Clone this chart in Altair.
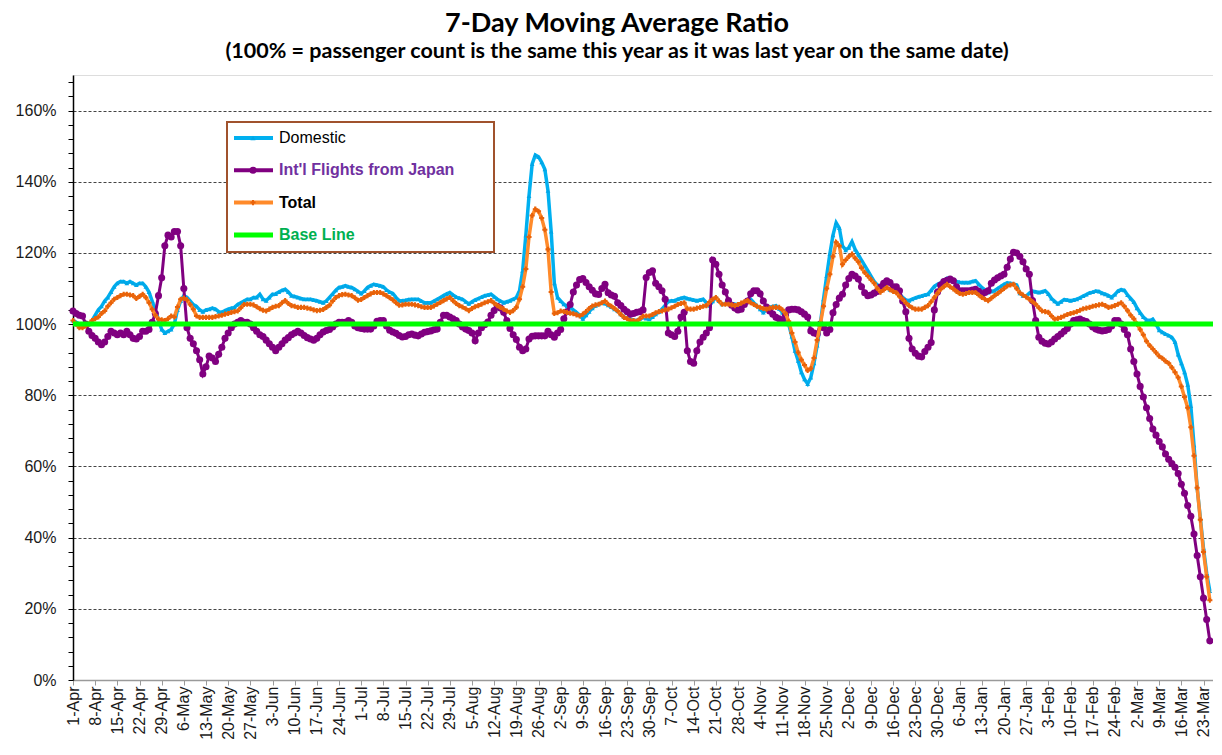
import json
import altair as alt
import pandas as pd

TICK_LABELS = [
    "1-Apr", "8-Apr", "15-Apr", "22-Apr", "29-Apr", "6-May", "13-May", "20-May", "27-May",
    "3-Jun", "10-Jun", "17-Jun", "24-Jun", "1-Jul", "8-Jul", "15-Jul", "22-Jul", "29-Jul",
    "5-Aug", "12-Aug", "19-Aug", "26-Aug", "2-Sep", "9-Sep", "16-Sep", "23-Sep", "30-Sep",
    "7-Oct", "14-Oct", "21-Oct", "28-Oct", "4-Nov", "11-Nov", "18-Nov", "25-Nov",
    "2-Dec", "9-Dec", "16-Dec", "23-Dec", "30-Dec", "6-Jan", "13-Jan", "20-Jan", "27-Jan",
    "3-Feb", "10-Feb", "17-Feb", "24-Feb", "2-Mar", "9-Mar", "16-Mar", "23-Mar",
]

DOMESTIC = [
    101, 100.5, 100, 100, 100, 100, 101, 102.5, 104, 105,
    106.5, 107.5, 109, 110.5, 111.5, 112, 112, 111.5, 112, 111.5,
    111, 111.5, 111.5, 110.5, 109, 106.5, 104, 101, 98.5, 97.5,
    98, 98.5, 100, 104, 106.5, 108, 107.5, 106.5, 105.5, 105,
    104, 103.5, 104, 104.2, 104.5, 104.2, 103.5, 103.3, 103.8, 104.2,
    104.5, 104.7, 105.5, 106, 106.5, 107, 107, 107.5, 107.5, 108.4,
    107, 106.6, 107.5, 108.4, 108.5, 109, 109.5, 109.8, 109, 108,
    107.8, 107.5, 107.2, 107, 107, 107, 106.8, 106.6, 106.3, 106,
    106.5, 107.5, 108.5, 109.5, 110.3, 110.5, 110.8, 110.5, 110.3, 109.8,
    109.2, 108.6, 109.3, 110.3, 110.8, 111.2, 111, 110.8, 110.5, 109.6,
    109, 108.6, 107.5, 106.6, 106.6, 106.7, 106.9, 107, 107, 107,
    106.5, 106, 106, 106, 106.5, 107, 107.5, 108, 108.5, 108.9,
    108.2, 107.6, 107.3, 107, 106.3, 105.7, 106.3, 106.8, 107.2, 107.6,
    108, 108.2, 108.4, 107.7, 107, 106.5, 106, 106.3, 106.6, 107,
    107.5, 109.4, 115, 125, 136, 145, 147.5, 147, 145.5, 143.5,
    137.5, 126, 111.5, 107.5, 106.5, 105.6, 105, 104.7, 104, 103.3,
    102.5, 101.5, 102.5, 103.5, 104.5, 105.2, 105.6, 106, 105.8, 105.3,
    104.8, 104.2, 103.7, 102.8, 102, 101.7, 101.4, 101.2, 101, 101.5,
    101.9, 101.6, 101.4, 102, 102.8, 103.4, 104.2, 105.3, 106.4, 106.6,
    106.6, 107, 107.3, 107.5, 107.2, 107, 106.8, 106.6, 106.8, 107,
    106, 105.2, 106.4, 107.5, 106.5, 105.6, 105.8, 106, 105.8, 105.6,
    105.6, 105.6, 106.2, 106.8, 107, 106, 105.2, 104.2, 103.3, 104,
    104.7, 105, 105.2, 104.3, 103.3, 101.5, 100, 96.5, 92.5, 89.7,
    86.5, 84.5, 83.2, 85, 89, 94, 100, 107, 113.5, 119.7,
    125, 128.5, 127, 122, 120.8, 121.5, 123.2, 121, 119.5, 118,
    116.5, 115, 113.5, 112, 111, 110.6, 110.4, 110.2, 109.7, 109.4,
    109, 108.5, 107.5, 106.8, 106.6, 107, 107.4, 107.7, 107.9, 108.2,
    108.4, 109.5, 110.6, 111.2, 111.6, 112.2, 112.9, 112.8, 112.4, 112,
    111.8, 111.7, 111.7, 111.7, 112, 112.2, 111.2, 110.3, 109.6, 108.9,
    109.2, 109.4, 110, 110.6, 111.2, 111.6, 111.5, 111.3, 111, 108.7,
    108, 107.9, 108.7, 109.3, 109.1, 108.9, 109.1, 109.4, 108.5, 107.2,
    106.4, 105.7, 106.3, 106.9, 106.8, 106.6, 106.8, 107, 107.4, 107.9,
    108.3, 108.8, 109, 109.3, 109.2, 108.7, 108.4, 108, 107.5, 108.3,
    109.3, 109.7, 109.5, 108.2, 107.2, 106.2, 104.5, 103.2, 102, 101.2,
    101, 101.4, 100, 98.3, 97.7, 97.2, 96.8, 96.3, 95, 91.5,
    89, 86.5, 83, 77, 66, 54, 45.5, 37, 30, 25,
]

INTL = [
    103.7, 103, 102.5, 102.3, 100, 98, 96.8, 96, 95, 94.2,
    95, 96.5, 98, 97.5, 97, 97.5, 97, 98, 97, 96,
    95.8, 96.5, 98, 98, 98.5, 100.5, 103, 108, 113, 122,
    125, 124.5, 126, 126, 122, 110, 99, 96, 94.5, 92.5,
    90, 86, 88, 91, 90.5, 89.5, 91.5, 93.5, 96, 97.5,
    99, 100, 100.5, 101, 100.5, 100.5, 100, 99, 98, 97,
    96.5, 95.5, 94.5, 93.5, 92.5, 93.5, 94.5, 95.5, 96.2, 97,
    97.5, 98, 97.5, 96.8, 96.2, 95.8, 95.5, 96, 97, 97.8,
    98.2, 98.5, 99.2, 100, 100.5, 100.5, 100.5, 101, 100.5, 99.5,
    99, 98.8, 98.6, 98.6, 98.6, 99.5, 100.8, 101, 101, 99.5,
    98.3, 97.8, 97.4, 96.8, 96.4, 96.5, 97, 97.2, 96.9, 96.7,
    97.2, 97.7, 97.9, 98.1, 98.4, 98.6, 100.5, 102.5, 102.5, 102,
    101.5, 101, 100, 99.2, 98.6, 98.2, 97.5, 95.3, 97.5, 99,
    99.8, 100.6, 102.5, 103.8, 105, 104.5, 103.3, 101, 98.8, 97,
    95.7, 93.5, 92.5, 93, 95.8, 96.6, 96.7, 96.7, 96.7, 96.7,
    98, 97, 96.3, 97.5, 98.5, 101.5, 103.5, 105.5, 109, 111,
    112.5, 112.8, 111.7, 110.5, 109.5, 108.5, 108.3, 110, 111.2, 108.8,
    108.2, 107.8, 106, 105.2, 104.2, 103.5, 102.8, 103, 103.3, 103.5,
    104, 113.1, 114.5, 115, 111.5, 110.5, 109.4, 107, 97.5, 97,
    96.5, 98, 102, 103.3, 92.5, 89.5, 89, 92.5, 95, 96.3,
    97.5, 99, 118, 116.8, 114, 111, 109, 106.6, 105.3, 104.5,
    104, 104.2, 105.5, 106.5, 108.5, 109.4, 109.4, 108.5, 106.5, 104.8,
    103.7, 102.8, 101.9, 101.5, 101, 102.5, 104, 104.2, 104.2, 104,
    103.5, 102.8, 102, 98.1, 97.5, 97.2, 100, 99, 97.5, 98.5,
    103.2, 105.5, 107.3, 108.4, 111, 112.8, 114, 113.5, 112.7, 110.5,
    108.8, 108, 108.2, 108.7, 109.2, 110.4, 111.5, 112.2, 111.7, 110.5,
    110.5, 109.4, 106.5, 103.5, 96, 93, 91.8, 91, 90.8, 92.3,
    93.5, 94.8, 104, 109, 111, 112, 112.3, 112.7, 112.2, 110.5,
    109.4, 109.4, 109.4, 109.4, 109.6, 109.8, 109.2, 108.4, 108.9, 109.4,
    111.5, 112.4, 113, 113.5, 114, 116, 118.3, 120.2, 120, 119,
    117.5, 115.5, 114, 106.6, 101, 96.3, 95.2, 94.6, 94.4, 95,
    95.8, 96.5, 97.2, 98, 98.8, 100, 101, 101.2, 101.4, 101,
    100.7, 100, 99.2, 98.6, 98.3, 98.1, 98.2, 98.5, 99.5, 101,
    101, 100, 98.5, 97, 93, 89.5, 86, 82.5, 79.5, 76.5,
    73.5, 70.5, 68.8, 67, 65.5, 63.5, 62, 60.8, 59.8, 58,
    55, 52.5, 49, 46, 41, 35, 29, 23, 17, 11,
]

TOTAL = [
    101, 100, 99, 99, 99.5, 100, 101, 101.5, 102, 103,
    103.7, 105, 106, 107, 107.5, 108, 108.4, 108.4, 108.2, 108,
    107.2, 107.8, 108.4, 107.5, 106, 104.2, 102.5, 101.4, 101.2, 101,
    101.5, 102.3, 102, 104.8, 107, 107.3, 106.8, 105.5, 104.2, 102.3,
    101.9, 101.9, 101.9, 101.9, 101.9, 102.1, 102.3, 102.5, 102.8, 103,
    103.3, 103.5, 103.7, 104.6, 105.5, 105.6, 105.6, 105.4, 104.9, 104.3,
    103.9, 103.7, 104.2, 104.7, 105, 105.2, 106, 106.6, 105.8, 105.2,
    105, 104.7, 104.7, 104.7, 104.5, 104.3, 104, 103.8, 103.9, 104.1,
    104.7, 105.3, 106.5, 107.5, 108, 108.3, 108.4, 108.2, 108, 107.4,
    106.7, 106.9, 107.5, 108, 108.5, 108.9, 108.9, 108.9, 108.5, 108,
    107.4, 106.8, 106, 105.3, 105.4, 105.6, 105.6, 105.6, 105.4, 105.2,
    104.9, 104.7, 104.7, 104.7, 105.1, 105.6, 106.1, 106.6, 107.1, 107.5,
    106.6, 105.8, 105.2, 104.8, 104.3, 103.8, 104.4, 104.9, 105.2, 105.6,
    106, 106.3, 106.6, 105.9, 105.2, 104.7, 104.2, 103.7, 103.3, 103.8,
    104.7, 107, 110.5, 115.5, 124.5, 130.5, 132.3, 131.7, 129.8, 126.5,
    121, 109, 103, 103.2, 103.7, 103.5, 103.3, 103.1, 102.9, 102.6,
    102.3, 102.8, 103.5, 104.4, 105.1, 105.4, 105.6, 106, 106.5, 105.6,
    105, 104.4, 103.7, 102.7, 101.9, 101.5, 101, 101, 100.8, 101.5,
    102.2, 102.3, 102.3, 102.7, 103.2, 103.5, 103.7, 104, 104.2, 104.6,
    105, 105.5, 105.8, 106, 104.3, 104.2, 104.2, 104.5, 104.7, 105,
    105.2, 106.2, 107, 107.5, 106.5, 105.6, 105.6, 105.6, 105.4, 105.2,
    105.5, 105.9, 106.3, 106.6, 106, 105.5, 105, 104.7, 104.4, 104.2,
    104.5, 104.7, 104.7, 104.7, 104, 103, 100.8, 97.5, 95, 92,
    90, 88.5, 87, 87.5, 90.5, 95.5, 100, 105, 110, 114,
    119, 123, 122, 116.8, 118, 119, 119.7, 118.5, 117.5, 115.8,
    114.5, 113.5, 112.5, 111.5, 110, 109, 109.6, 110.3, 109.7, 109.2,
    108.8, 107.8, 107, 106, 105.2, 104.6, 104.2, 104.2, 104.2, 104.7,
    105.2, 106.3, 107.5, 108.7, 109.8, 110.5, 111.2, 110.5, 109.9, 109.2,
    108.6, 108.4, 108.6, 108.9, 108.9, 108.9, 108.2, 107.5, 107, 106.6,
    107.3, 108, 108.6, 109.3, 110, 110.7, 111, 111.2, 110, 108.8,
    108.2, 107.6, 107, 106.3, 105.6, 104.6, 103.7, 103.5, 103.3, 102.3,
    101.4, 101.6, 101.9, 102.3, 102.7, 103, 103.2, 103.5, 103.9, 104.3,
    104.5, 104.7, 105, 105.2, 105.4, 105.6, 105.2, 104.7, 104.9, 105.2,
    105.6, 106, 105, 103.8, 102.5, 101.5, 100, 98.5, 97, 95.2,
    94, 93, 92, 91, 90.4, 89.6, 89, 87.8, 86.5, 85,
    82.5, 79.5, 76.5, 71, 63, 54, 45, 36, 29, 22.4,
]

BASELINE = 100

SERIES_NAMES = ["Domestic", "Int'l Flights from Japan", "Total", "Base Line"]
LINE_COLORS = ["#00B0F0", "#800080", "#FF8A2A", "#00FF00"]
MARKER_COLORS = ["#00A6E6", "#800080", "#E8620A", None]
MARKER_SHAPES = ["triangle-up", "circle", "cross", None]
LEGEND_TEXT_COLORS = ["#000000", "#7030A0", "#000000", "#00B050"]
LEGEND_TEXT_WEIGHTS = ["normal", "bold", "bold", "bold"]

W, H = 1140, 605
X_MAX = 360
Y_MAX = 170

label_js = json.dumps(TICK_LABELS)

x_enc = alt.X(
    "day:Q",
    scale=alt.Scale(domain=[0, X_MAX], nice=False, zero=False),
    axis=alt.Axis(
        values=list(range(0, 358, 7)),
        labelExpr=f"{label_js}[round(datum.value / 7)]",
        labelAngle=270,
        labelAlign="right",
        labelBaseline="middle",
        labelFont="Liberation Sans",
        labelFontSize=16,
        labelColor="#1a1a1a",
        labelPadding=1,
        labelOverlap=False,
        labelFlush=False,
        labelBound=False,
        tickSize=5,
        tickColor="#9a9a9a",
        domainColor="#9a9a9a",
        domainWidth=1.5,
        grid=False,
        title=None,
    ),
)

y_enc = alt.Y(
    "value:Q",
    scale=alt.Scale(domain=[0, Y_MAX], nice=False, zero=True),
    axis=alt.Axis(
        values=list(range(0, 170, 4)),
        labelExpr="datum.value % 20 == 0 ? datum.value + '%' : ''",
        labelFont="Liberation Sans",
        labelFontSize=16,
        labelColor="#1a1a1a",
        labelPadding=12,
        labelOverlap=False,
        tickSize=5,
        tickColor="#000000",
        domainColor="#000000",
        domainWidth=1.5,
        grid=True,
        gridColor="#444444",
        gridDash=[3, 2],
        gridWidth=1,
        gridOpacity={"condition": {"test": "datum.value % 20 == 0 && datum.value > 0", "value": 1}, "value": 0},
        title=None,
    ),
)


def series_df(vals):
    return pd.DataFrame({"day": list(range(len(vals))), "value": vals})


layers = []

# Domestic
dom = alt.Chart(series_df(DOMESTIC))
layers.append(dom.mark_line(color=LINE_COLORS[0], strokeWidth=3.5).encode(x=x_enc, y=y_enc))
layers.append(dom.mark_point(shape=MARKER_SHAPES[0], filled=True, size=22, color=MARKER_COLORS[0], opacity=1).encode(x=x_enc, y=y_enc))

# International
intl = alt.Chart(series_df(INTL))
layers.append(intl.mark_line(color=LINE_COLORS[1], strokeWidth=3).encode(x=x_enc, y=y_enc))
layers.append(intl.mark_point(shape=MARKER_SHAPES[1], filled=True, size=50, color=MARKER_COLORS[1], opacity=1).encode(x=x_enc, y=y_enc))

# Total
tot = alt.Chart(series_df(TOTAL))
layers.append(tot.mark_line(color=LINE_COLORS[2], strokeWidth=3.5).encode(x=x_enc, y=y_enc))
layers.append(tot.mark_point(shape=MARKER_SHAPES[2], filled=True, size=26, color=MARKER_COLORS[2], opacity=1).encode(x=x_enc, y=y_enc))

# Base line
base = alt.Chart(pd.DataFrame({"value": [BASELINE]}))
layers.append(base.mark_rule(color=LINE_COLORS[3], strokeWidth=5).encode(y=y_enc))

# Legend (drawn manually inside the plot area)
one = pd.DataFrame({"k": [0]})
LEG_X0, LEG_X1, LEG_Y0, LEG_Y1 = 154, 421, 47, 177
ROW_Y0, ROW_STEP = 63, 32.3
layers.append(
    alt.Chart(one).mark_rect(fill="white", stroke="#A0522D", strokeWidth=2).encode(
        x=alt.value(LEG_X0), x2=alt.value(LEG_X1), y=alt.value(LEG_Y0), y2=alt.value(LEG_Y1)
    )
)
for i, name in enumerate(SERIES_NAMES):
    ry = ROW_Y0 + i * ROW_STEP
    layers.append(
        alt.Chart(one).mark_rule(color=LINE_COLORS[i], strokeWidth=5 if i == 3 else 4).encode(
            x=alt.value(161), x2=alt.value(200), y=alt.value(ry)
        )
    )
    if MARKER_SHAPES[i]:
        layers.append(
            alt.Chart(one).mark_point(
                shape=MARKER_SHAPES[i], filled=True, opacity=1,
                size=50 if i == 1 else 26, color=MARKER_COLORS[i]
            ).encode(x=alt.value(180), y=alt.value(ry))
        )
    layers.append(
        alt.Chart(one).mark_text(
            text=name, align="left", baseline="middle", font="Liberation Sans", fontSize=16,
            fontWeight=LEGEND_TEXT_WEIGHTS[i], color=LEGEND_TEXT_COLORS[i]
        ).encode(x=alt.value(206), y=alt.value(ry))
    )

chart = alt.layer(*layers).properties(
    width=W,
    height=H,
    autosize=alt.AutoSizeParams(type="none"),
    padding={"left": 65, "top": 67, "right": 0, "bottom": 61},
    title=alt.TitleParams(
        text="7-Day Moving Average Ratio",
        subtitle="(100% = passenger count is the same this year as it was last year on the same date)",
        font="Lato",
        fontSize=27,
        fontWeight="bold",
        color="#000000",
        subtitleFont="Lato",
        subtitleFontSize=21.5,
        subtitleFontWeight="bold",
        subtitleColor="#000000",
        subtitlePadding=3,
        anchor="middle",
        offset=11,
        dx=-26,
    ),
).configure_view(stroke=None).configure(background="white")

chart.save("out.html", embed_options={"renderer": "svg", "actions": False})
